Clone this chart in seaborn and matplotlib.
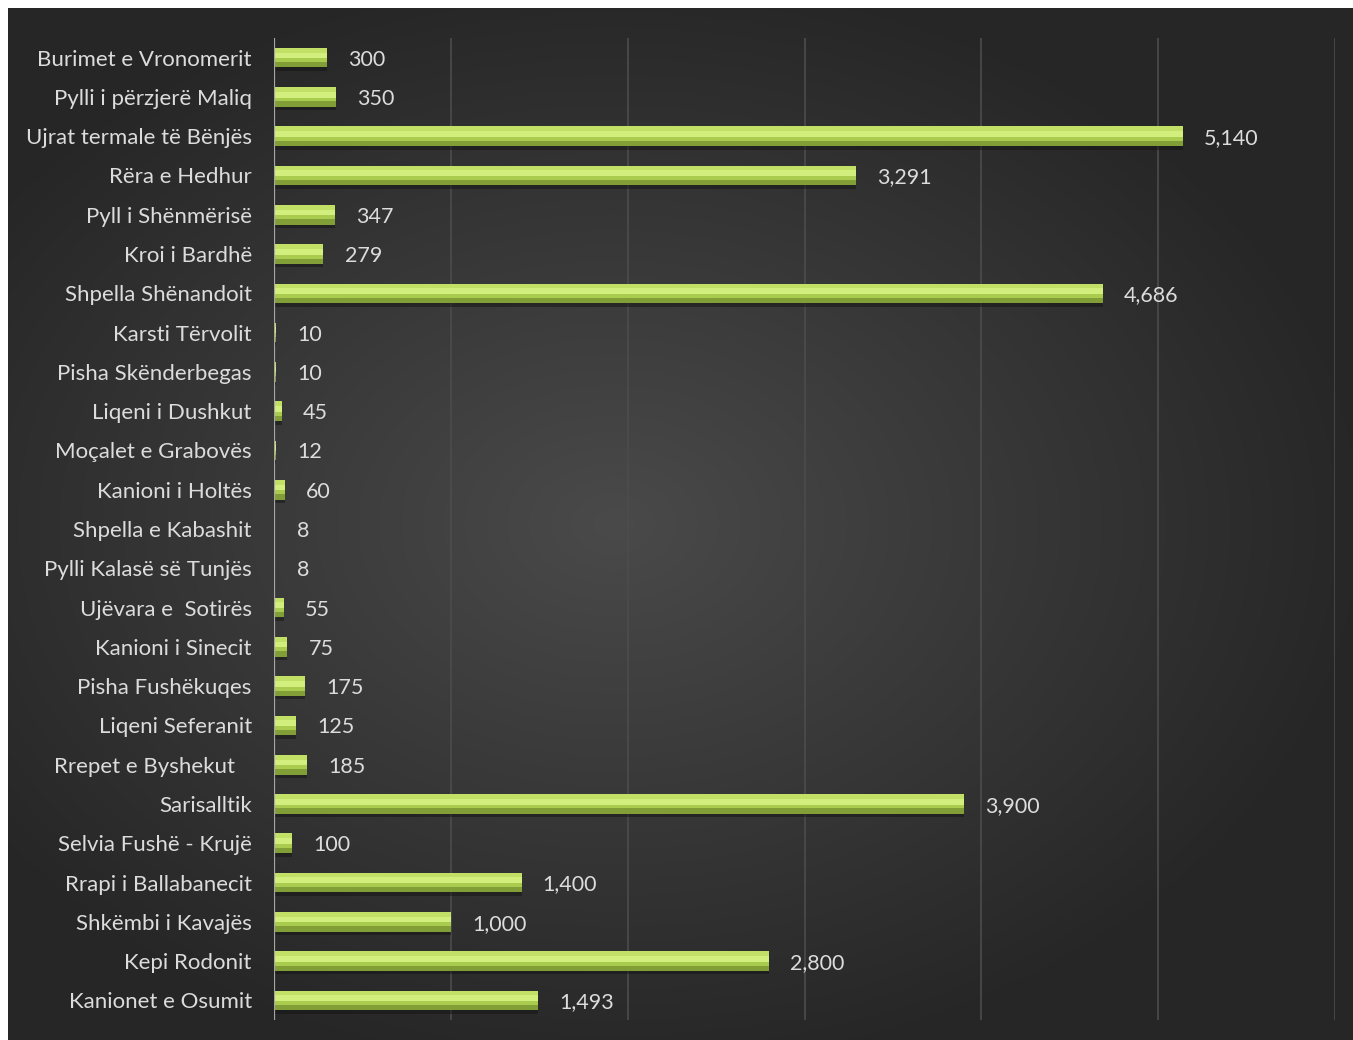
import numpy as np
import pandas as pd
import matplotlib.pyplot as plt
import seaborn as sns

# data
places = ["Burimet e Vronomerit", "Pylli i përzjerë Maliq", "Ujrat termale të Bënjës",
          "Rëra e Hedhur", "Pyll i Shënmërisë", "Kroi i Bardhë", "Shpella Shënandoit",
          "Karsti Tërvolit", "Pisha Skënderbegas", "Liqeni i Dushkut", "Moçalet e Grabovës",
          "Kanioni i Holtës", "Shpella e Kabashit", "Pylli Kalasë së Tunjës",
          "Ujëvara e  Sotirës", "Kanioni i Sinecit", "Pisha Fushëkuqes", "Liqeni Seferanit",
          "Rrepet e Byshekut   ", "Sarisalltik", "Selvia Fushë - Krujë", "Rrapi i Ballabanecit",
          "Shkëmbi i Kavajës", "Kepi Rodonit", "Kanionet e Osumit"]
values = [300, 350, 5140, 3291, 347, 279, 4686, 10, 10, 45, 12, 60, 8, 8, 55, 75,
          175, 125, 185, 3900, 100, 1400, 1000, 2800, 1493]
x_ticks = [0, 1000, 2000, 3000, 4000, 5000, 6000]

df = pd.DataFrame({"place": places, "value": values})

sns.set_theme(style="dark")
plt.rcParams['font.family'] = ['Lato', 'DejaVu Sans']

fig = plt.figure(figsize=(13.53, 10.4), dpi=100)
fig.patch.set_facecolor("white")

# radial dark gradient behind the chart
bg = fig.add_axes([8 / 1353, 0, 1 - 8 / 1353, 1 - 8 / 1040])
gx, gy = np.meshgrid(np.linspace(-1, 1, 400), np.linspace(-1, 1, 300))
r = np.sqrt(((gx + 0.1) * 0.95) ** 2 + gy ** 2)
shade = np.clip(0.29 - 0.13 * r, 0.15, 0.29)
bg.imshow(np.dstack([shade] * 3), aspect="auto", extent=[0, 1, 0, 1], interpolation="bilinear")
bg.set_axis_off()

ax = fig.add_axes([274 / 1353, 1 - 1020 / 1040, (1335 - 274) / 1353, (1020 - 38) / 1040])
ax.set_facecolor("none")

h = 0.5
sns.barplot(data=df, x="value", y="place", orient="h", color="#b3d455",
            width=h, saturation=1, edgecolor="none", linewidth=0, ax=ax, zorder=3)

ypos = np.arange(len(values))
# bevel: shadow, dark bottom, bright top
bevel = dict(edgecolor="none", linewidth=0)
ax.barh(ypos + 0.09, values, height=h, color="#141414", alpha=0.5, zorder=2, **bevel)
ax.barh(ypos + h * 0.36, values, height=h * 0.28, color="#819f36", zorder=4, **bevel)
ax.barh(ypos + h * 0.12, values, height=h * 0.22, color="#aacc4e", zorder=4, **bevel)
ax.barh(ypos - h * 0.12, values, height=h * 0.30, color="#d2ee7c", zorder=4, **bevel)
ax.barh(ypos - h * 0.38, values, height=h * 0.24, color="#c2e066", zorder=4, **bevel)

for y, v in zip(ypos, values):
    ax.text(v + 120, y + 0.05, f"{v:,}", va="center", ha="left",
            color="#dcdcdc", fontsize=15.5, zorder=5)

ax.set_xlim(0, 6000)
ax.set_ylim(len(values) - 0.5, -0.5)
ax.set_xticks(x_ticks)
ax.set_xticklabels([])
ax.grid(axis="x", color="#4c4c4c", linewidth=1.2, zorder=0)
ax.grid(axis="y", visible=False)
ax.axvline(0, color="#a6a6a6", linewidth=1.6, zorder=6)
for s in ax.spines.values():
    s.set_visible(False)
ax.set_xlabel("")
ax.set_ylabel("")
ax.tick_params(axis="y", length=0, pad=16, labelsize=16, labelcolor="#dcdcdc")
ax.tick_params(axis="x", length=0)

fig.savefig("out.png", dpi=100)
